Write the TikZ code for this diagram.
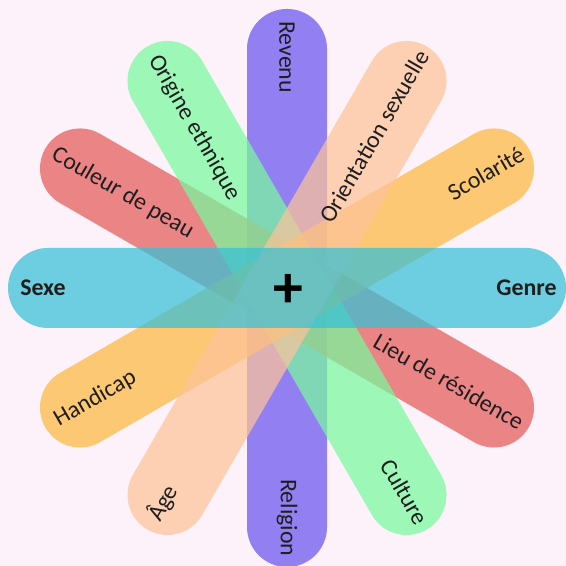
\documentclass[tikz,border=0pt]{standalone}
\usepackage{fontspec}
\setmainfont{Carlito}
\usepackage{xcolor}
\definecolor{fondrose}{RGB}{253,242,250}
\definecolor{pcyan}{RGB}{53,193,214}
\definecolor{pviolet}{RGB}{106,84,239}
\definecolor{pvert}{RGB}{121,249,158}
\definecolor{ppeche}{RGB}{253,195,154}
\definecolor{porange}{RGB}{253,184,64}
\definecolor{prouge}{RGB}{229,90,88}
\definecolor{texte}{RGB}{30,30,30}

\begin{document}
\begin{tikzpicture}[x=1cm,y=1cm,
  petal/.style={fill opacity=0.72,rounded corners=0.707cm},
  lbl/.style={text=texte,inner sep=0pt},
  every node/.append style={font=\fontsize{12}{14}\selectfont}]
  \useasboundingbox (-5.071,-4.912) rectangle (4.929,5.088);
  \fill[fondrose] (-5.071,-4.912) rectangle (4.929,5.088);

  % petales
  \fill[petal,pviolet,rotate=90] (-4.93,-0.707) rectangle (4.93,0.707);
  \fill[petal,prouge,rotate=-30] (-4.93,-0.707) rectangle (4.93,0.707);
  \fill[petal,pvert,rotate=-60] (-4.93,-0.707) rectangle (4.93,0.707);
  \fill[petal,porange,rotate=30] (-4.93,-0.707) rectangle (4.93,0.707);
  \fill[petal,ppeche,rotate=60] (-4.93,-0.707) rectangle (4.93,0.707);
  \fill[petal,pcyan] (-4.93,-0.707) rectangle (4.93,0.707);

  % etiquettes
  \node[lbl,anchor=west,font=\fontsize{12}{14}\selectfont\bfseries] (sexe) at (180:4.72) {Sexe};
  \node[lbl,anchor=east,font=\fontsize{12}{14}\selectfont\bfseries] (genre) at (0:4.77) {Genre};
  \node[lbl,anchor=west,rotate=-90] (revenu) at (90:4.72) {Revenu};
  \node[lbl,anchor=east,rotate=-90] (religion) at (270:4.75) {Religion};
  \node[lbl,anchor=west,rotate=-30] (couleur) at (150:4.77) {Couleur de peau};
  \node[lbl,anchor=east,rotate=-30] (lieu) at (-30:4.8) {Lieu de résidence};
  \node[lbl,anchor=west,rotate=-60] (origine) at (120:4.72) {Origine ethnique};
  \node[lbl,anchor=east,rotate=-60] (culture) at (-60:4.8) {Culture};
  \node[lbl,anchor=east,rotate=60] (orientation) at (60:4.82) {Orientation sexuelle};
  \node[lbl,anchor=west,rotate=60] (age) at (240:4.72) {Âge};
  \node[lbl,anchor=east,rotate=30] (scolarite) at (30:4.8) {Scolarité};
  \node[lbl,anchor=west,rotate=30] (handicap) at (210:4.72) {Handicap};

  \node[text=black,font=\fontsize{30}{30}\selectfont\bfseries] (plus) at (0.03,-0.05) {+};
\end{tikzpicture}
\end{document}
